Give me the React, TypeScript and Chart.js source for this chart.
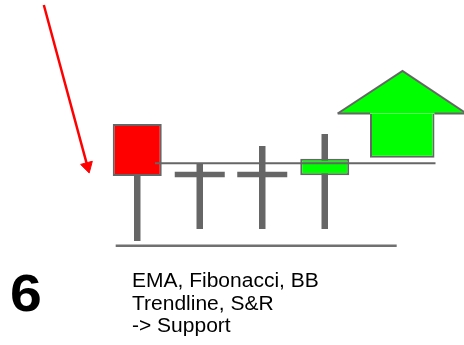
import React, { useEffect, useRef } from "react";
import { Chart, registerables } from "chart.js";

Chart.register(...registerables);

// ---- data (time index on x, price on y) ----
const candleTimes = [1, 2, 3, 4];
const opens = [22.1, 17.05, 17.05, 16.97];
const closes = [16.9, 17.05, 17.05, 18.63];
const highs = [22.1, 18.1, 19.9, 21.1];
const lows = [10.4, 11.6, 11.6, 11.6];

// support level drawn through the candles
const supportLevel = 18.17;
const supportSpan = [1.284, 5.772];

// base line under the candles
const baseLevel = 9.93;
const baseSpan = [0.655, 5.151];

// red pointer arrow (start, head)
const pointerX = [-0.495, 0.202];
const pointerY = [34.0, 17.88];

// green "up" arrow
const upHeadX = [4.207, 5.244, 6.268];
const upHeadY = [23.15, 27.4, 23.15];
const upShaftX = [4.724, 5.756];
const upShaftBottom = 18.73;

const noteNumber = "6";
const noteLines = ["EMA, Fibonacci, BB", "Trendline, S&R", "-> Support"];

// ---- style ----
const GRAY = "#666666";
const RED = "#ff0000";
const GREEN = "#00ff00";
const DOJI_HALF = 0.28;

export default function App() {
  const ref = useRef<HTMLCanvasElement | null>(null);

  useEffect(() => {
    if (!ref.current) return;
    const isDoji = (i: number) => opens[i] === closes[i];
    const bodyIdx = candleTimes.map((_, i) => i).filter((i) => !isDoji(i));
    const dojiIdx = candleTimes.map((_, i) => i).filter((i) => isDoji(i));
    const shaftCenter = (upShaftX[0] + upShaftX[1]) / 2;

    const barCommon = {
      type: "bar" as const,
      grouped: false,
      barPercentage: 2,
      categoryPercentage: 1,
      borderSkipped: false as const,
    };
    const lineCommon = {
      type: "line" as const,
      pointRadius: 0,
      fill: false,
      tension: 0,
    };

    const chart = new Chart(ref.current, {
      type: "bar",
      data: {
        datasets: [
          // support line (on top)
          {
            ...lineCommon,
            order: 0,
            data: supportSpan.map((x) => ({ x, y: supportLevel })),
            borderColor: GRAY,
            borderWidth: 2,
          },
          // bodies
          {
            ...barCommon,
            order: 1,
            data: bodyIdx.map((i) => ({ x: candleTimes[i], y: [opens[i], closes[i]] })),
            backgroundColor: bodyIdx.map((i) => (closes[i] < opens[i] ? RED : GREEN)),
            borderColor: GRAY,
            borderWidth: 2,
            maxBarThickness: 49,
          },
          // doji bars
          {
            ...barCommon,
            order: 2,
            data: dojiIdx.map((i) => ({
              x: candleTimes[i],
              y: [opens[i] - DOJI_HALF, opens[i] + DOJI_HALF],
            })),
            backgroundColor: GRAY,
            borderWidth: 0,
            maxBarThickness: 50,
          },
          // wicks
          {
            ...barCommon,
            order: 3,
            data: candleTimes.map((x, i) => ({ x, y: [lows[i], highs[i]] })),
            backgroundColor: GRAY,
            borderWidth: 0,
            maxBarThickness: 6.5,
          },
          // base line
          {
            ...lineCommon,
            order: 4,
            data: baseSpan.map((x) => ({ x, y: baseLevel })),
            borderColor: "#707070",
            borderWidth: 2.5,
          },
          // up arrow: barb undersides
          {
            ...lineCommon,
            order: 5,
            data: [
              { x: upHeadX[0], y: upHeadY[0] },
              { x: upShaftX[0], y: upHeadY[0] },
            ],
            borderColor: GRAY,
            borderWidth: 2,
          },
          {
            ...lineCommon,
            order: 5,
            data: [
              { x: upShaftX[1], y: upHeadY[2] },
              { x: upHeadX[2], y: upHeadY[2] },
            ],
            borderColor: GRAY,
            borderWidth: 2,
          },
          // up arrow head
          {
            ...lineCommon,
            order: 6,
            data: upHeadX.map((x, i) => ({ x, y: upHeadY[i] })),
            fill: { value: upHeadY[0] },
            backgroundColor: GREEN,
            borderColor: GRAY,
            borderWidth: 2,
          },
          // up arrow shaft
          {
            ...barCommon,
            order: 7,
            data: [{ x: shaftCenter, y: [upShaftBottom, upHeadY[0]] }],
            backgroundColor: GREEN,
            borderColor: GRAY,
            borderWidth: 2,
            borderSkipped: "top" as const,
            maxBarThickness: 64.5,
          },
          // red pointer arrow
          {
            ...lineCommon,
            order: 8,
            data: pointerX.map((x, i) => ({ x, y: pointerY[i] })),
            borderColor: RED,
            borderWidth: 2.5,
            pointRadius: (c: any) => (c.dataIndex === 1 ? 7 : 0),
            pointStyle: "triangle",
            pointBackgroundColor: RED,
            pointBorderColor: RED,
            pointBorderWidth: 1,
            pointRotation: (c: any) => {
              const s = c.chart.scales;
              if (!s || !s.x || !s.y) return 0;
              const dx = s.x.getPixelForValue(pointerX[1]) - s.x.getPixelForValue(pointerX[0]);
              const dy = s.y.getPixelForValue(pointerY[1]) - s.y.getPixelForValue(pointerY[0]);
              return (Math.atan2(dx, -dy) * 180) / Math.PI;
            },
          },
        ] as any,
      },
      options: {
        animation: false,
        responsive: false,
        events: [],
        layout: { padding: 0, autoPadding: false },
        plugins: { legend: { display: false }, tooltip: { enabled: false } },
        scales: {
          x: {
            type: "linear",
            min: -1.196,
            max: 6.228,
            offset: false,
            display: false,
            ticks: { stepSize: 100 },
          },
          y: {
            type: "linear",
            min: 0,
            max: 34.5,
            stacked: false,
            display: false,
          },
        },
      } as any,
    });
    return () => chart.destroy();
  }, []);

  const font = '"Liberation Sans", Arial, sans-serif';
  return (
    <div style={{ position: "absolute", left: 0, top: 0, width: 464, height: 345, background: "#fff" }}>
      <canvas ref={ref} width={464} height={345} style={{ position: "absolute", left: 0, top: 0 }} />
      <div
        style={{
          position: "absolute",
          left: 10.3,
          top: 267.3,
          font: `bold 52px/52px ${font}`,
          color: "#000",
          whiteSpace: "pre",
          transform: "scaleX(1.1)",
          transformOrigin: "left top",
        }}
      >
        {noteNumber}
      </div>
      <div
        style={{
          position: "absolute",
          left: 131.7,
          top: 269,
          font: `20px/22.7px ${font}`,
          color: "#000",
          whiteSpace: "pre",
          transform: "scaleX(1.05)",
          transformOrigin: "left top",
        }}
      >
        {noteLines.map((t, i) => (
          <div key={i}>{t}</div>
        ))}
      </div>
    </div>
  );
}
